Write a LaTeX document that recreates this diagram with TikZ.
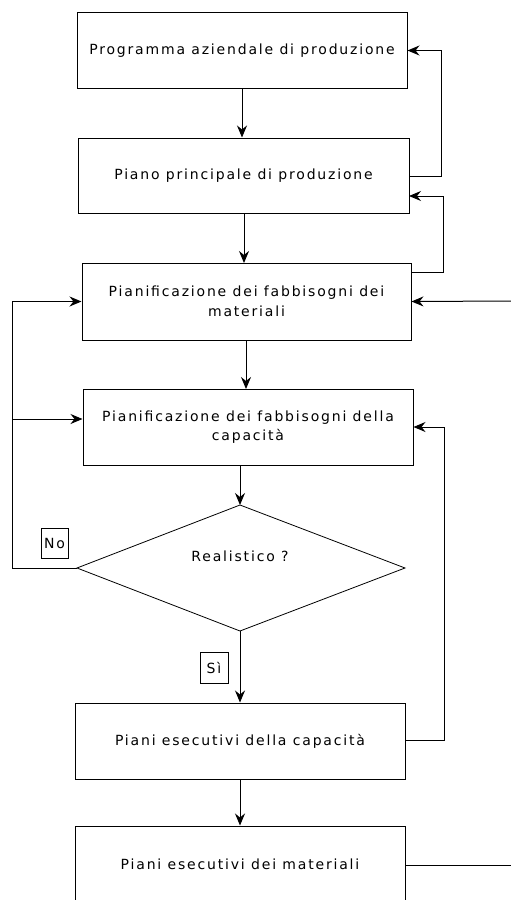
\documentclass[tikz,border=0pt]{standalone}
\usepackage{fontspec}
\setmainfont{DejaVu Sans}[LetterSpace=13]
\usetikzlibrary{shapes.geometric,arrows.meta,calc}
\begin{document}
\begin{tikzpicture}[x=1pt,y=-1pt,
  every node/.style={font=\fontsize{14}{19.5}\selectfont},
  stepbox/.style={draw,line width=1pt,minimum width=330pt,minimum height=76pt,align=center,inner sep=0pt},
  tag/.style={draw,line width=0.8pt,inner sep=0pt},
  conn/.style={line width=1pt},
  arr/.style={conn,-{Stealth[length=12pt,width=10pt,inset=4pt]}}]
\useasboundingbox (0,0) rectangle (511,900);
\fill[white] (0,0) rectangle (511,900);
\begin{scope}
\clip (0,0) rectangle (511,900);
\node[stepbox] (b1) at (242,50.5) {Programma aziendale di produzione};
\node[stepbox,minimum width=331pt,minimum height=75pt] (b2) at (243.5,175.5) {Piano principale di produzione};
\node[stepbox,minimum width=329pt,minimum height=77pt] (b3) at (246.5,301.5) {Pianificazione dei fabbisogni dei\\materiali};
\node[stepbox,minimum width=330pt,minimum height=76pt] (b4) at (248,427) {Pianificazione dei fabbisogni della\\capacità};
\draw[line width=0.8pt] (240,505) -- (405,568) -- (240,631) -- (77,568) -- cycle;
\coordinate (dtop) at (240,505);
\coordinate (dleft) at (77,568);
\coordinate (dbot) at (240,631);
\node (dtext) at (240,556) {Realistico ?};
\node[tag,minimum width=27pt,minimum height=30pt] (no) at (54.5,543) {No};
\node[tag,minimum width=28pt,minimum height=31pt] (si) at (214,667.5) {Sì};
\node[stepbox] (b5) at (240,741) {Piani esecutivi della capacità};
\node[stepbox] (b6) at (240,864) {Piani esecutivi dei materiali};

\coordinate (r1) at (441,176);
\coordinate (r2) at (443,272);
\coordinate (l1) at (12,568);
\coordinate (r3) at (444,740);
\coordinate (e1) at (512,301);
\coordinate (e2) at (512,865);

\draw[arr] (b1.south) -- (b1.south |- b2.north);
\draw[arr] (244,213) -- (244,263);
\draw[arr] (246,340) -- (246,389);
\draw[arr] (240,465) -- (dtop);
\draw[arr] (dbot) -- (b5.north);
\draw[arr] (b5.south) -- (b6.north);

\draw[arr] (r1 -| b2.east) -- (r1) -- (r1 |- b1.east) -- (b1.east);
\draw[arr] (r2 -| b3.east) -- (r2) -- (443,196) -- (409,196);
\draw[arr] (dleft) -- (l1) -- (l1 |- b3.west) -- (b3.west);
\draw[arr] (12,419) -- (b4.west |- 0,419);
\draw[arr] (e1) -- (b3.east);
\draw[arr] (r3 -| b5.east) -- (r3) -- (444,427) -- (b4.east);
\draw[conn] (b6.east |- e2) -- (e2);
\end{scope}
\end{tikzpicture}
\end{document}
